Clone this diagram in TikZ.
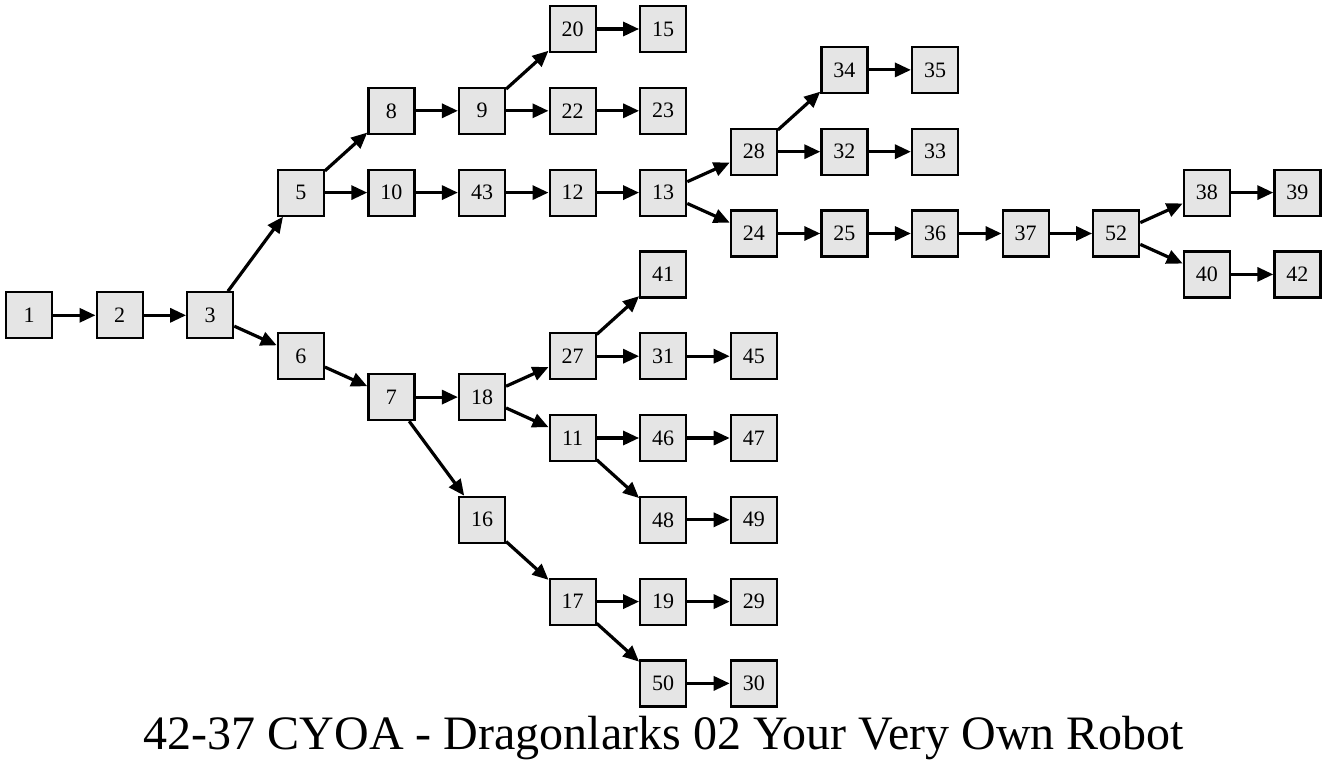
\documentclass[tikz,border=0pt]{standalone}
\usepackage{fontspec}
\setmainfont{Liberation Serif}
\usetikzlibrary{arrows.meta}
\definecolor{boxfill}{HTML}{E5E5E5}
\begin{document}
\begin{tikzpicture}[x=1pt,y=-1pt,
  box/.style={draw=black,line width=2.2pt,fill=boxfill,minimum size=46pt,inner sep=0pt,font=\fontsize{22}{26}\selectfont},
  edge/.style={line width=3.2pt,-{Triangle[length=16pt,width=14pt]}}]
\useasboundingbox (0,0) rectangle (1328,768);
\def\cx#1{29+90.6*#1}
\def\ry#1{29+40.9*#1}
\foreach \n/\c/\r in {1/0/7,2/1/7,3/2/7,5/3/4,6/3/8,8/4/2,10/4/4,7/4/9,9/5/2,43/5/4,18/5/9,16/5/12,
  20/6/0,22/6/2,12/6/4,27/6/8,11/6/10,17/6/14,
  15/7/0,23/7/2,13/7/4,41/7/6,31/7/8,46/7/10,48/7/12,19/7/14,50/7/16,
  28/8/3,24/8/5,45/8/8,47/8/10,49/8/12,29/8/14,30/8/16,
  34/9/1,32/9/3,25/9/5,35/10/1,33/10/3,36/10/5,37/11/5,52/12/5,38/13/4,40/13/6,39/14/4,42/14/6}
  {\node[box] (n\n) at ({\cx{\c}},{\ry{\r}}) {\n};}
\foreach \a/\b in {1/2,2/3,3/5,3/6,5/8,5/10,8/9,9/20,9/22,20/15,22/23,10/43,43/12,12/13,13/28,13/24,
  28/34,28/32,34/35,32/33,24/25,25/36,36/37,37/52,52/38,52/40,38/39,40/42,6/7,7/18,7/16,
  18/27,18/11,27/41,27/31,31/45,11/46,11/48,46/47,48/49,16/17,17/19,17/50,19/29,50/30}
  {\draw[edge] (n\a) -- (n\b);}
\node[anchor=base,font=\fontsize{48}{56}\selectfont,inner sep=0pt] (title) at (664,749) {42-37 CYOA - Dragonlarks 02 Your Very Own Robot};
\end{tikzpicture}
\end{document}
